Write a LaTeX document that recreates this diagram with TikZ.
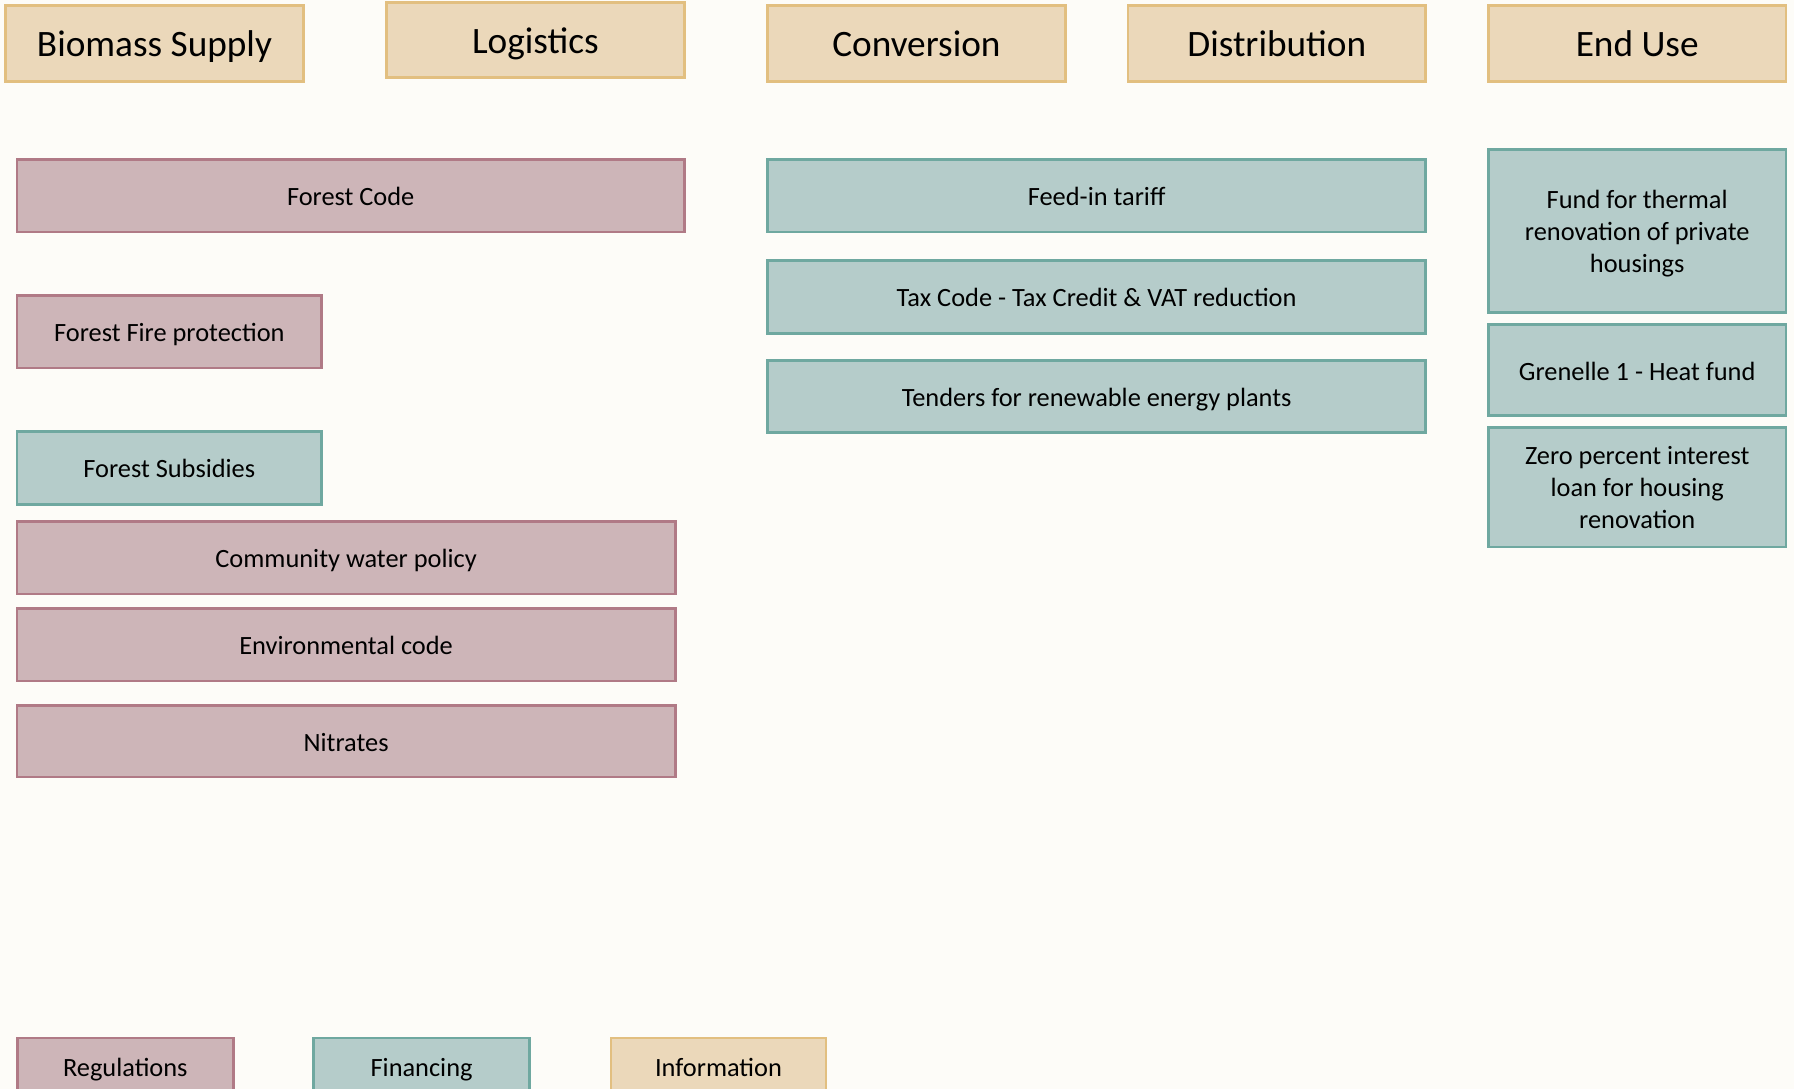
\documentclass[tikz,border=0pt]{standalone}
\usepackage{fontspec}
\setmainfont{Carlito}
\definecolor{bgcol}{HTML}{FDFCF8}
\definecolor{headfill}{HTML}{EBD8BA}
\definecolor{headline}{HTML}{E2BF80}
\definecolor{regfill}{HTML}{CDB5B8}
\definecolor{regline}{HTML}{B07A86}
\definecolor{finfill}{HTML}{B5CCCA}
\definecolor{finline}{HTML}{6FA8A0}

\begin{document}
\begin{tikzpicture}[x=0.01cm,y=-0.01cm,
	box/.style={line width=0.8pt,inner sep=0pt,align=center,text height=5.7pt,text depth=0pt,font=\fontsize{7.5}{9.1}\selectfont},
	head/.style={box,draw=headline,fill=headfill,minimum width=2.975cm,minimum height=0.755cm,text height=7.5pt,font=\fontsize{10.6}{13}\selectfont},
	reg/.style={box,draw=regline,fill=regfill,minimum height=0.725cm},
	fin/.style={box,draw=finline,fill=finfill,minimum height=0.725cm},
	info/.style={box,draw=headline,fill=headfill,minimum height=0.725cm},
	multi/.style={text height={},text depth=0pt}]
	%background
		\fill[bgcol] (0,0) rectangle (1794,1089);
		\useasboundingbox (0,0) rectangle (1794,1089);
	%value chain steps
		\node[head] (supply) at (154.5,43.5) {Biomass Supply};
		\node[head] (logistics) at (535.4,40) {Logistics};
		\node[head] (conversion) at (916.4,43.5) {Conversion};
		\node[head] (distribution) at (1276.8,43.5) {Distribution};
		\node[head] (enduse) at (1637.2,43.5) {End Use};
	%biomass supply + logistics
		\node[reg,minimum width=6.67cm] (forestcode) at (350.7,195.7) {Forest Code};
		\node[reg,minimum width=3.043cm] (forestfire) at (169.3,331.8) {Forest Fire protection};
		\node[fin,minimum width=3.043cm] (forestsub) at (169.3,467.9) {Forest Subsidies};
		\node[reg,minimum width=6.579cm] (water) at (346.1,557.8) {Community water policy};
		\node[reg,minimum width=6.579cm] (envcode) at (346.1,644.7) {Environmental code};
		\node[reg,minimum width=6.579cm,minimum height=0.71cm] (nitrates) at (346.1,741.4) {Nitrates};
	%conversion + distribution
		\node[fin,minimum width=6.579cm] (feedin) at (1096.6,195.7) {Feed-in tariff};
		\node[fin,minimum width=6.579cm] (taxcode) at (1096.6,296.9) {Tax Code - Tax Credit \& VAT reduction};
		\node[fin,minimum width=6.579cm] (tenders) at (1096.6,396.4) {Tenders for renewable energy plants};
	%end use
		\node[fin,multi,minimum width=2.975cm,minimum height=1.625cm] (thermal) at (1637.2,231.1) {Fund for thermal\\renovation of private\\housings};
		\node[fin,minimum width=2.975cm,minimum height=0.904cm] (grenelle) at (1637.2,370.1) {Grenelle 1 - Heat fund};
		\node[fin,multi,minimum width=2.975cm,minimum height=1.19cm] (zeroloan) at (1637.2,487.4) {Zero percent interest\\loan for housing\\renovation};
	%legend
		\node[reg,minimum width=2.162cm,minimum height=0.56cm] (legreg) at (125.3,1066) {Regulations};
		\node[fin,minimum width=2.162cm,minimum height=0.56cm] (legfin) at (421.6,1066) {Financing};
		\node[info,minimum width=2.15cm,minimum height=0.56cm] (leginfo) at (718.5,1066) {Information};
\end{tikzpicture}
\end{document}
